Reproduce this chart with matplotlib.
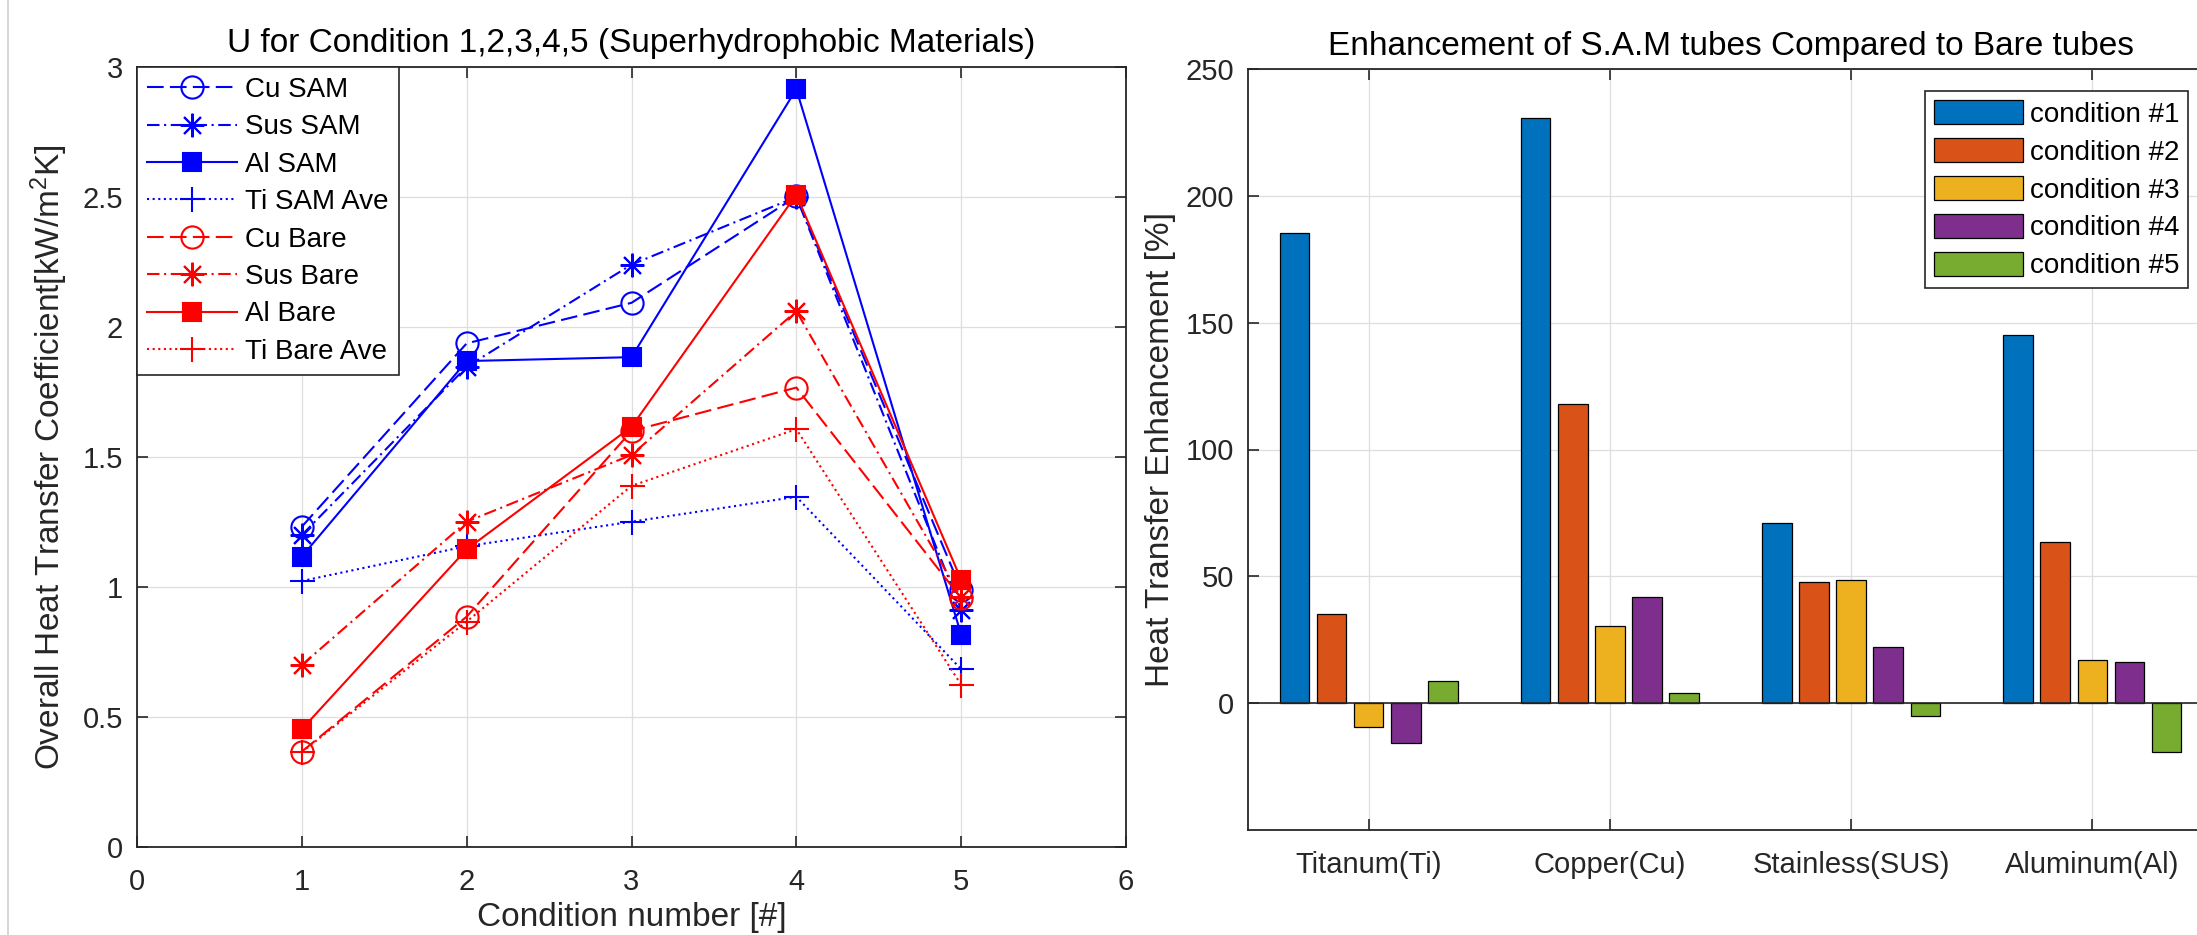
import matplotlib
matplotlib.use("Agg")
import matplotlib.pyplot as plt
from matplotlib.lines import Line2D
import numpy as np

plt.rcParams['font.family'] = ['Liberation Sans', 'DejaVu Sans']
plt.rcParams['mathtext.fontset'] = 'custom'
plt.rcParams['mathtext.rm'] = 'Liberation Sans'
plt.rcParams['mathtext.default'] = 'regular'

# ---------------- data: left chart ----------------
conditions = [1, 2, 3, 4, 5]
cu_sam = [1.232, 1.937, 2.093, 2.502, 0.99]
sus_sam = [1.20, 1.847, 2.24, 2.50, 0.913]
al_sam = [1.117, 1.869, 1.884, 2.915, 0.817]
ti_sam_ave = [1.023, 1.157, 1.251, 1.347, 0.684]
cu_bare = [0.367, 0.886, 1.60, 1.767, 0.957]
sus_bare = [0.70, 1.251, 1.508, 2.061, 0.96]
al_bare = [0.453, 1.145, 1.616, 2.509, 1.028]
ti_bare_ave = [0.365, 0.867, 1.389, 1.607, 0.624]

# ---------------- data: right chart ----------------
materials = ['Titanum(Ti)', 'Copper(Cu)', 'Stainless(SUS)', 'Aluminum(Al)']
cond1 = [185.4, 230.5, 71.1, 145.1]
cond2 = [35.2, 117.8, 47.9, 63.4]
cond3 = [-9.4, 30.5, 48.4, 16.9]
cond4 = [-15.7, 41.8, 22.1, 16.4]
cond5 = [8.9, 4.0, -5.2, -19.2]
cond_labels = ['condition #1', 'condition #2', 'condition #3', 'condition #4', 'condition #5']

W, H = 2197, 935
fig = plt.figure(figsize=(W / 100, H / 100), dpi=100)
fig.patch.set_facecolor('white')

dark = '#262626'
gridc = '#dedede'
TICK_FS = 21
LAB_FS = 24
LEG_FS = 20


def style_axes(ax):
    for s in ax.spines.values():
        s.set_color(dark)
        s.set_linewidth(1.3)
    ax.tick_params(direction='in', length=8, width=1.2, colors=dark,
                   labelsize=TICK_FS, top=True, right=True, pad=10)
    ax.tick_params(axis='x', pad=15)
    ax.grid(True, color=gridc, linewidth=0.9)
    ax.set_axisbelow(True)


# ---------------- left axes ----------------
ax1 = fig.add_axes([137 / W, 1 - 847 / H, (1126 - 137) / W, (847 - 67) / H])
style_axes(ax1)

blue = '#0000ff'
red = '#ff0000'
lw = 1.5
dash = (8, 3)
dashdot = (6, 2.2, 1, 2.2)
dot = (1, 1.7)

series = [
    (cu_sam, blue, dash, 'o', 'none', 16, 'Cu SAM'),
    (sus_sam, blue, dashdot, (8, 2, 0), blue, 17, 'Sus SAM'),
    (al_sam, blue, None, 's', blue, 13.5, 'Al SAM'),
    (ti_sam_ave, blue, dot, '+', blue, 18, 'Ti SAM Ave'),
    (cu_bare, red, dash, 'o', 'none', 16, 'Cu Bare'),
    (sus_bare, red, dashdot, (8, 2, 0), red, 17, 'Sus Bare'),
    (al_bare, red, None, 's', red, 13.5, 'Al Bare'),
    (ti_bare_ave, red, dot, '+', red, 18, 'Ti Bare Ave'),
]
for vals, c, ds, mk, mfc, ms, lab in series:
    ln, = ax1.plot(conditions, vals, color=c, lw=lw, marker=mk, markersize=ms,
                   markerfacecolor=mfc, markeredgecolor=c, markeredgewidth=1.5,
                   label=lab)
    if ds is not None:
        ln.set_dashes(ds)

ax1.set_xlim(0, 6)
ax1.set_ylim(0, 3)
ax1.set_xticks(range(0, 7))
ax1.set_yticks(np.arange(0, 3.01, 0.5))
ax1.set_yticklabels(['0', '0.5', '1', '1.5', '2', '2.5', '3'])
ax1.set_title('U for Condition 1,2,3,4,5 (Superhydrophobic Materials)',
              fontsize=LAB_FS, color='black', pad=10.5)
ax1.set_xlabel('Condition number [#]', fontsize=LAB_FS, color=dark)
ax1.set_ylabel('Overall Heat Transfer Coefficient[kW/m$^{2}$K]', fontsize=LAB_FS, color=dark)
ax1.xaxis.set_label_coords(0.5, -0.0705)
ax1.xaxis.label.set_va('top')
ax1.yaxis.set_label_coords(-0.068, 0.5)

leg1 = ax1.legend(loc='upper left', bbox_to_anchor=(0, 1), borderaxespad=0,
                  fontsize=LEG_FS, handlelength=3.24, handletextpad=0.29,
                  labelspacing=0.41, borderpad=0.36, numpoints=1,
                  fancybox=False, framealpha=1, edgecolor=dark)
leg1.get_frame().set_linewidth(1.2)

# ---------------- right axes ----------------
ax2 = fig.add_axes([1248 / W, 1 - 830 / H, (2213 - 1248) / W, (830 - 69) / H])
style_axes(ax2)

colors = ['#0072BD', '#D95319', '#EDB120', '#7E2F8E', '#77AC30']
groups = [cond1, cond2, cond3, cond4, cond5]
x = np.arange(1, len(materials) + 1)
nb = len(groups)
gw = min(0.8, nb / (nb + 1.5))
step = gw / nb
bw = 0.8 * step
for i, (vals, col, lab) in enumerate(zip(groups, colors, cond_labels)):
    offs = (i - (nb - 1) / 2) * step
    ax2.bar(x + offs, vals, width=bw, color=col, edgecolor='black',
            linewidth=0.9, label=lab, zorder=3)
ax2.axhline(0, color=dark, lw=1.2, zorder=4)

ax2.set_xlim(0.5, 4.5)
ax2.set_ylim(-50, 250)
ax2.set_yticks(np.arange(0, 251, 50))
ax2.set_xticks(x)
ax2.set_xticklabels(materials)
ax2.set_title('Enhancement of S.A.M tubes Compared to Bare tubes',
              fontsize=LAB_FS, color='black', pad=10)
ax2.set_ylabel('Heat Transfer Enhancement [%]', fontsize=LAB_FS, color=dark)
ax2.yaxis.set_label_coords(-0.0746, 0.5)

leg2 = ax2.legend(loc='upper right', bbox_to_anchor=(2188 / W, 1 - 91 / H),
                  bbox_transform=fig.transFigure, borderaxespad=0,
                  fontsize=LEG_FS, handlelength=3.2, handleheight=0.97,
                  handletextpad=0.25, labelspacing=0.37, borderpad=0.32,
                  fancybox=False, framealpha=1, edgecolor=dark)
leg2.get_frame().set_linewidth(1.2)

# thin light border line at the far left of the image
fig.add_artist(Line2D([8 / W, 8 / W], [0, 1], transform=fig.transFigure,
                      color='#cfcfcf', lw=1.2))

fig.savefig('out.png', dpi=100, facecolor='white')
